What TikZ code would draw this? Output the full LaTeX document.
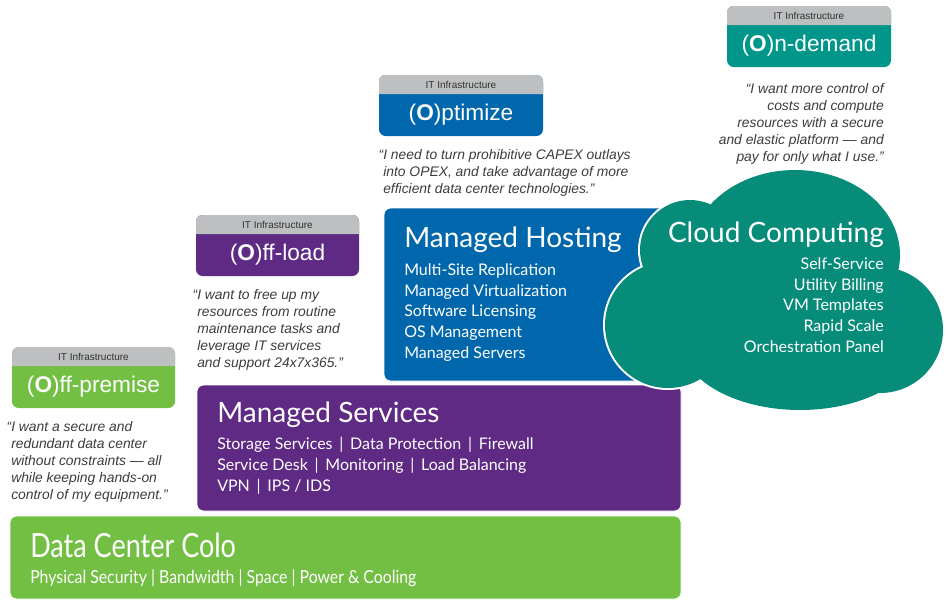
\documentclass[tikz,border=0pt]{standalone}
\usepackage{fontspec}
\setmainfont{Liberation Sans}
\newfontfamily\hfont{Lato}
\newfontfamily\cfonta[FakeStretch=0.81]{Lato}
\newfontfamily\cfontb[FakeStretch=0.88]{Lato}
\definecolor{dcgreen}{HTML}{72BF44}
\definecolor{mspurple}{HTML}{5E2A84}
\definecolor{mhblue}{HTML}{0067AC}
\definecolor{ccteal}{HTML}{088C7A}
\definecolor{tabteal}{HTML}{00978A}
\definecolor{tabgray}{HTML}{BDBFC1}
\definecolor{quotegray}{HTML}{3C3C3C}
\tikzset{
 boxtitle/.style={anchor=base west, text=white, inner sep=0, font=\hfont\fontsize{21}{24}\selectfont},
 boxitem/.style={anchor=base west, text=white, inner sep=0, align=left, font=\hfont\fontsize{12}{15.4}\selectfont},
 cloudtitle/.style={anchor=base east, text=white, inner sep=0, font=\hfont\fontsize{21}{24}\selectfont},
 clouditem/.style={anchor=base east, text=white, inner sep=0, align=right, font=\hfont\fontsize{12}{15.4}\selectfont},
 quotetext/.style={anchor=base west, inner sep=0, text=quotegray, align=left, font=\itshape\fontsize{10.4}{12.75}\selectfont},
 tabsmall/.style={text=black!80, inner sep=0, font=\fontsize{7.5}{8}\selectfont},
 tabtitle/.style={text=white, inner sep=0, font=\fontsize{17}{20}\selectfont},
 bigbox/.style={rounded corners=5, draw=white, line width=0.6},
}
\newcommand\mytab[6]{% name, x1, y1, x2, colour, title
  \fill[#5, rounded corners=5] (#2,#3) rectangle (#4,#3+61);
  \fill[tabgray] (#2,#3+19) [rounded corners=5] -- (#2,#3) -- (#4,#3) [sharp corners] -- (#4,#3+19) -- cycle;
  \node[tabsmall] (#1s) at ({(#2+#4)/2},#3+10) {IT Infrastructure};
  \node[tabtitle] (#1t) at ({(#2+#4)/2},#3+40) {(\textbf{O})#6};
}
% radii in pt (1 px = 0.75 pt)
\newcommand\cloudlobes[1]{%
  \path[#1] (668,325) circle [radius=47.25pt];
  \path[#1] (690,250) circle [radius=37.5pt];
  \path[#1] (795,255) ellipse [x radius=78.75pt, y radius=63.75pt];
  \path[#1] (880,330) circle [radius=47.25pt];
  \path[#1] (800,340) ellipse [x radius=90pt, y radius=52.5pt];
  \path[#1] (780,300) ellipse [x radius=82.5pt, y radius=60pt];
}
\begin{document}
\begin{tikzpicture}[x=0.75pt,y=-0.75pt]
\useasboundingbox (0,0) rectangle (948,600);
% base boxes
\path[bigbox, fill=dcgreen] (10,516) rectangle (681,599);
\path[bigbox, fill=mspurple] (197,385) rectangle (681,511);
\path[bigbox, fill=mhblue] (384,208) rectangle (705,381);
% Data center
\node[boxtitle, font=\cfonta\fontsize{25}{28}\selectfont] (dct) at (30,557) {Data Center Colo};
\node[boxitem, font=\cfontb\fontsize{13.5}{15}\selectfont] (dci) at (30,583) {Physical Security | Bandwidth | Space | Power \& Cooling};
% Managed services
\node[boxtitle] (mst) at (217,422) {Managed Services};
\node[boxitem] (msi) at (217,491) {Storage Services \,|\, Data Protection \,|\, Firewall\\Service Desk \,|\, Monitoring \,|\, Load Balancing\\VPN \,|\, IPS / IDS};
% Managed hosting
\node[boxtitle] (mht) at (404,247) {Managed Hosting};
\node[boxitem] (mhi) at (404,358) {Multi-Site Replication\\Managed Virtualization\\Software Licensing\\OS Management\\Managed Servers};
% cloud
\cloudlobes{fill=white, draw=white, line width=3}
\cloudlobes{fill=ccteal}
\node[cloudtitle] (cct) at (884,242) {Cloud Computing};
\node[clouditem] (cci) at (884,352) {Self-Service\\Utility Billing\\VM Templates\\Rapid Scale\\Orchestration Panel};
% tabs
\mytab{tp}{12}{347}{175}{dcgreen}{ff-premise}
\mytab{tl}{196}{215}{359}{mspurple}{ff-load}
\mytab{to}{379}{75}{543}{mhblue}{ptimize}
\mytab{td}{727}{6}{891}{tabteal}{n-demand}
% quotes
\node[quotetext] (qp) at (11,499) {\llap{“}I want a secure and\\redundant data center\\without constraints — all\\while keeping hands-on\\control of my equipment.”};
\node[quotetext] (ql) at (197,367) {\llap{“}I want to free up my\\resources from routine\\maintenance tasks and\\leverage IT services\\and support 24x7x365.”};
\node[quotetext] (qo) at (383,193) {\llap{“}I need to turn prohibitive CAPEX outlays\\into OPEX, and take advantage of more\\efficient data center technologies.”};
\node[quotetext, anchor=base east, align=right] (qd) at (884,161) {“I want more control of\\costs and compute\\resources with a secure\\and elastic platform — and\\pay for only what I use.”};
\end{tikzpicture}
\end{document}
